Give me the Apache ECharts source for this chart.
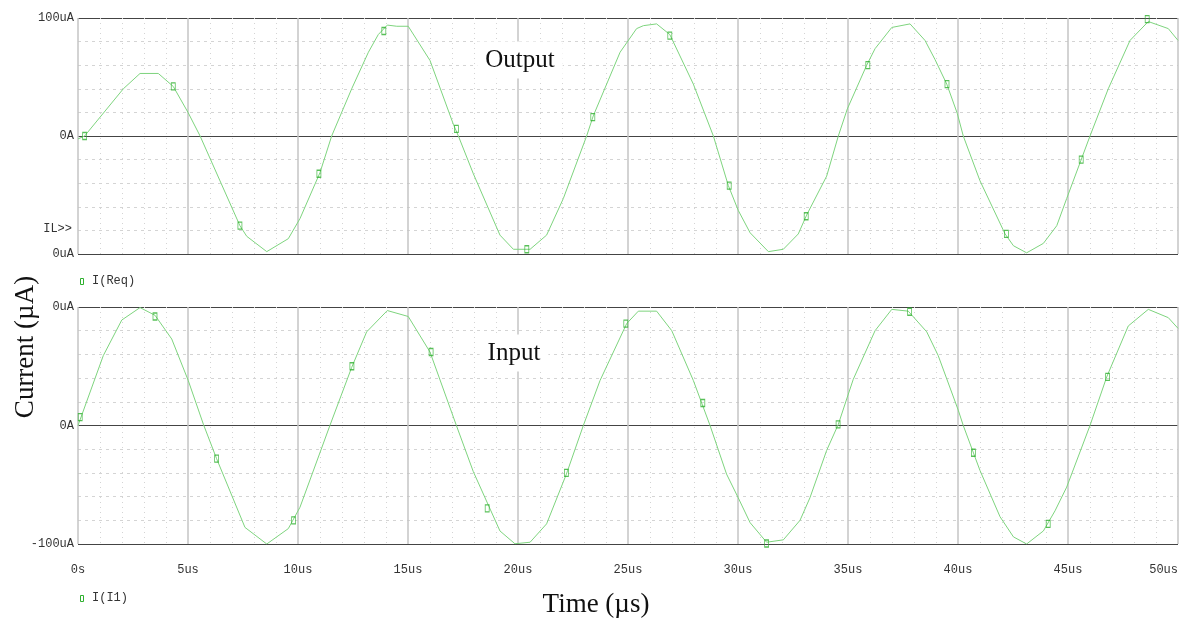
<!DOCTYPE html>
<html>
<head>
<meta charset="utf-8">
<script src="https://cdn.jsdelivr.net/npm/echarts@6/dist/echarts.min.js"></script>
<style>
    html, body { margin: 0; padding: 0; background: #fff; }
    #chart { width: 1184px; height: 621px; }
</style>
</head>
<body>
<div id="chart"></div>
<script>
// 时间 (us) 与电流 (uA)
const outTime = [0, 0.3, 2.06, 2.82, 3.65, 4.33, 5.0, 5.55, 7.36, 7.67, 8.58, 9.56, 10.09, 11.0, 11.53, 12.44, 13.2, 13.65, 14.06, 14.49, 15.01, 16.0, 17.06, 17.29, 17.97, 19.18, 19.79, 20.55, 21.3, 22.06, 23.12, 23.42, 24.64, 25.39, 25.7, 26.3, 26.9, 27.97, 28.88, 29.56, 30.01, 30.55, 31.38, 32.06, 32.74, 33.12, 34.03, 34.56, 34.97, 35.85, 36.23, 36.99, 37.82, 38.5, 38.95, 39.49, 39.97, 40.24, 41.0, 42.14, 42.52, 43.12, 43.88, 44.49, 44.94, 46.0, 46.83, 47.82, 48.65, 49.56, 50.0]
const outValue = [-2.5, 0, 40, 53, 53, 42, 20, 0, -76, -85, -98, -87, -70, -31, 0, 40, 71, 86, 94, 93, 93, 64, 10, 0, -32, -84, -96, -96, -84, -53, 0, 17, 71, 91, 93.5, 95, 86, 44, 0, -42, -63, -82, -98, -96, -83, -67, -34, 0, 23, 60, 74, 92, 95, 81, 65, 44, 19, 0, -38, -83, -93, -99, -91, -76, -53, 0, 40, 81, 97, 91, 81]
const outMarkT = [0.3, 4.33, 7.36, 10.95, 13.9, 17.2, 20.4, 23.4, 26.9, 29.6, 33.1, 35.9, 39.5, 42.2, 45.6, 48.6]
const outMarkV = [0, 42, -76, -32, 89, 6, -96, 16, 85, -42, -68, 60, 44, -83, -20, 99]

const inTime = [0, 1.15, 1.99, 2.82, 3.5, 4.26, 5.01, 5.7, 6.3, 7.59, 8.58, 9.56, 10.09, 11.45, 12.44, 13.12, 14.06, 15.01, 16.0, 17.2, 17.97, 19.18, 19.86, 20.55, 21.3, 22.2, 22.97, 23.73, 24.94, 25.47, 26.3, 26.99, 27.97, 28.73, 29.48, 30.01, 30.55, 31.3, 32.06, 32.82, 33.27, 34.03, 34.56, 34.97, 35.24, 36.23, 36.99, 37.74, 38.58, 39.1, 40.01, 40.24, 41.0, 41.91, 42.52, 43.12, 43.88, 44.41, 44.94, 46.0, 46.76, 47.74, 48.65, 49.56, 50.0]
const inValue = [0, 59, 89, 99.5, 93, 73, 38, 1, -28, -86, -100, -87, -69, 0, 49, 79, 97, 92, 62, 0, -39, -89, -99.8, -98.5, -83, -41, 0, 38, 86, 96.5, 96.5, 80, 38, 0, -41, -61, -82, -98.5, -96.5, -80, -61, -21, 1, 24, 39, 80, 98, 96.5, 79, 59, 13, 0, -38, -77, -94, -100, -89, -72, -52, 0, 41, 84, 98, 91, 82]
const inMarkT = [0.1, 3.5, 6.3, 9.8, 12.45, 16.05, 18.6, 22.2, 24.9, 28.4, 31.3, 34.55, 37.8, 40.7, 44.1, 46.8]
const inMarkV = [7, 92, -28, -80, 50, 62, -70, -40, 86, 19, -99.6, 1, 96, -23, -83, 41]

const xTicks = ['0s', '5us', '10us', '15us', '20us', '25us', '30us', '35us', '40us', '45us', '50us']
const outYTicks = { '100': '100uA', '0': '0A', '-100': '0uA' }
const inYTicks = { '100': '0uA', '0': '0A', '-100': '-100uA' }

const lineColor = '#7ed47e'
const markColor = '#2fb02f'
const monoFont = 'Liberation Mono'

const zip = (a, b) => a.map((v, i) => [v, b[i]])

const chart = echarts.init(document.getElementById('chart'))

const makeX = (gridIndex, showLabel) => ({
    type: 'value',
    gridIndex: gridIndex,
    min: 0,
    max: 50,
    interval: 5,
    axisLine: { show: false },
    axisTick: { show: false },
    axisLabel: {
        show: showLabel,
        formatter: v => xTicks[Math.round(v / 5)],
        color: '#333',
        fontFamily: monoFont,
        fontSize: 12,
        margin: 20,
        alignMaxLabel: 'right',
    },
    splitLine: { show: true, lineStyle: { color: '#c4c4c4', width: 1.5 } },
    minorTick: { show: false, splitNumber: 5 },
    minorSplitLine: { show: true, lineStyle: { color: '#d4d4d4', type: [1, 4], width: 1 } },
})

const makeY = (gridIndex, labels) => ({
    type: 'value',
    gridIndex: gridIndex,
    min: -100,
    max: 100,
    interval: 100,
    axisLine: { show: false },
    axisTick: { show: false },
    axisLabel: {
        formatter: v => labels[String(v)] || '',
        color: '#333',
        fontFamily: monoFont,
        fontSize: 12,
        margin: 4,
    },
    splitLine: { show: true, lineStyle: { color: '#444', width: 1 } },
    minorTick: { show: false, splitNumber: 5 },
    minorSplitLine: { show: true, lineStyle: { color: '#d4d4d4', type: [3, 4], width: 1 } },
})

const option = {
    animation: false,
    backgroundColor: '#fff',
    grid: [
        { left: 78, right: 6, top: 18, height: 236, outerBoundsMode: 'none' },
        { left: 78, right: 6, top: 307, height: 237, outerBoundsMode: 'none' },
    ],
    xAxis: [makeX(0, false), makeX(1, true)],
    yAxis: [makeY(0, outYTicks), makeY(1, inYTicks)],
    series: [
        {
            name: 'I(Req)',
            type: 'line',
            xAxisIndex: 0,
            yAxisIndex: 0,
            data: zip(outTime, outValue),
            showSymbol: false,
            lineStyle: { color: lineColor, width: 1 },
            z: 3,
        },
        {
            type: 'scatter',
            xAxisIndex: 0,
            yAxisIndex: 0,
            data: zip(outMarkT, outMarkV),
            symbol: 'rect',
            symbolSize: [4, 7],
            itemStyle: { color: 'rgba(255,255,255,0)', borderColor: markColor, borderWidth: 1 },
            z: 4,
        },
        {
            name: 'I(I1)',
            type: 'line',
            xAxisIndex: 1,
            yAxisIndex: 1,
            data: zip(inTime, inValue),
            showSymbol: false,
            lineStyle: { color: lineColor, width: 1 },
            z: 3,
        },
        {
            type: 'scatter',
            xAxisIndex: 1,
            yAxisIndex: 1,
            data: zip(inMarkT, inMarkV),
            symbol: 'rect',
            symbolSize: [4, 7],
            itemStyle: { color: 'rgba(255,255,255,0)', borderColor: markColor, borderWidth: 1 },
            z: 4,
        },
    ],
    graphic: [
        // 图例
        { type: 'rect', left: 80, top: 278, shape: { width: 3, height: 6 }, style: { fill: '#fff', stroke: markColor, lineWidth: 1 } },
        { type: 'text', left: 92, top: 275, style: { text: 'I(Req)', font: '12px "Liberation Mono"', fill: '#333' } },
        { type: 'rect', left: 80, top: 595, shape: { width: 3, height: 6 }, style: { fill: '#fff', stroke: markColor, lineWidth: 1 } },
        { type: 'text', left: 92, top: 592, style: { text: 'I(I1)', font: '12px "Liberation Mono"', fill: '#333' } },
        { type: 'text', right: 1112, top: 223, style: { text: 'IL>>', font: '12px "Liberation Mono"', fill: '#333' } },
        // 标题
        {
            type: 'text', x: 520, y: 60, z: 10,
            style: {
                text: 'Output', font: '25px "Liberation Serif"', fill: '#111',
                align: 'center', verticalAlign: 'middle',
                backgroundColor: '#fff', padding: [6, 8],
            },
        },
        {
            type: 'text', x: 514, y: 353, z: 10,
            style: {
                text: 'Input', font: '25px "Liberation Serif"', fill: '#111',
                align: 'center', verticalAlign: 'middle',
                backgroundColor: '#fff', padding: [6, 8],
            },
        },
        {
            type: 'text', x: 596, y: 605,
            style: {
                text: 'Time (µs)', font: '27px "Liberation Serif"', fill: '#111',
                align: 'center', verticalAlign: 'middle',
            },
        },
        {
            type: 'text', x: 26, y: 347, rotation: Math.PI / 2,
            style: {
                text: 'Current (µA)', font: '27px "Liberation Serif"', fill: '#111',
                align: 'center', verticalAlign: 'middle',
            },
        },
    ],
}

chart.setOption(option)
</script>
</body>
</html>
